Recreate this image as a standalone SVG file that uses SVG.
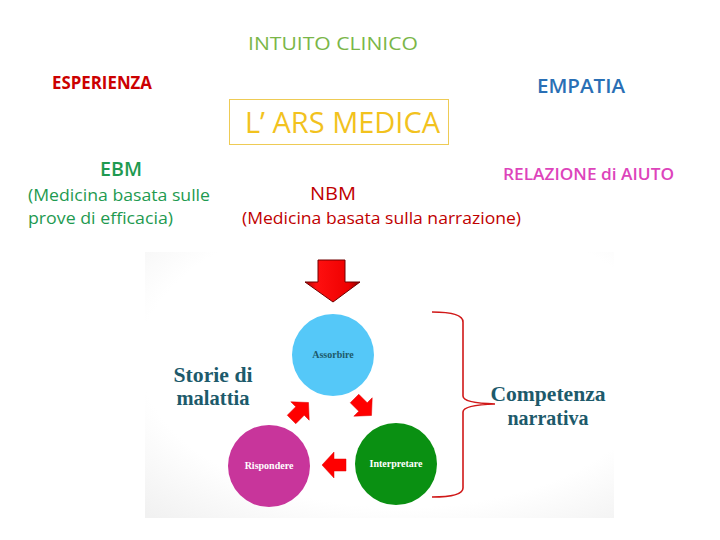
<svg xmlns="http://www.w3.org/2000/svg" width="720" height="540" viewBox="0 0 720 540">
<defs>
<style>
.cal{font-family:"Open Sans","Liberation Sans",sans-serif;}
.b{font-weight:bold;}
.ser{font-family:"Liberation Serif","DejaVu Serif",serif;font-weight:bold;}
.teal{fill:#1d5a6b;}
.sa{fill:#ff0000;stroke:#e00000;stroke-width:0.5;}
</style>
<radialGradient id="bg" cx="0.55" cy="0.4" r="0.8">
<stop offset="0.7" stop-color="#ffffff"/>
<stop offset="1" stop-color="#f1f1f1"/>
</radialGradient>
<linearGradient id="dn" x1="0" y1="0" x2="1" y2="0">
<stop offset="0" stop-color="#a00000"/>
<stop offset="0.2" stop-color="#ff1010"/>
<stop offset="0.8" stop-color="#ee0000"/>
<stop offset="1" stop-color="#800000"/>
</linearGradient>
<path id="blk" d="M-12,-6 L0,-6 L0,-13 L12,0 L0,13 L0,6 L-12,6 Z"/>
</defs>
<rect width="720" height="540" fill="#ffffff"/>

<g id="top-labels">
<text class="cal" x="333" y="50" font-size="19" fill="#7ab648" text-anchor="middle" textLength="170" lengthAdjust="spacingAndGlyphs">INTUITO CLINICO</text>
<text class="cal b" x="52" y="89" font-size="17" fill="#cc0000" textLength="100" lengthAdjust="spacingAndGlyphs">ESPERIENZA</text>
<text class="cal" x="537" y="93" font-size="20" fill="#2a6fb5" font-weight="600" textLength="88" lengthAdjust="spacingAndGlyphs">EMPATIA</text>
</g>

<g id="ars-medica">
<rect x="229.5" y="99.5" width="219" height="45" fill="none" stroke="#eecb55" stroke-width="1"/>
<text class="cal" x="245" y="133" font-size="29" fill="#f2c21e" textLength="195" lengthAdjust="spacingAndGlyphs">L’ ARS MEDICA</text>
</g>

<g id="ebm">
<text class="cal" x="121" y="176" font-size="19" fill="#1e9a50" font-weight="600" text-anchor="middle" textLength="42" lengthAdjust="spacingAndGlyphs">EBM</text>
<text class="cal" x="28" y="201" font-size="17" fill="#1e9a50" textLength="182" lengthAdjust="spacingAndGlyphs">(Medicina basata sulle</text>
<text class="cal" x="28" y="224" font-size="17" fill="#1e9a50" textLength="145" lengthAdjust="spacingAndGlyphs">prove di efficacia)</text>
</g>

<g id="nbm">
<text class="cal" x="333" y="200" font-size="19" fill="#c00000" text-anchor="middle" textLength="46" lengthAdjust="spacingAndGlyphs">NBM</text>
<text class="cal" x="242" y="224" font-size="17" fill="#c00000" textLength="279" lengthAdjust="spacingAndGlyphs">(Medicina basata sulla narrazione)</text>
</g>

<g id="relazione">
<text class="cal" x="503" y="180" font-size="16" fill="#dd44bb" font-weight="600" textLength="171" lengthAdjust="spacingAndGlyphs">RELAZIONE di AIUTO</text>
</g>

<g id="picture">
<rect x="145" y="252" width="469" height="266" fill="url(#bg)"/>

<g id="down-arrow">
<path d="M318,260 L345,260 L345,282 L360,282 L333,302 L305,282 L318,282 Z" fill="url(#dn)" stroke="#700000" stroke-width="1"/>
</g>

<g id="assorbire">
<circle cx="333" cy="355" r="41" fill="#55c8f8"/>
<text class="ser teal" x="333" y="358" font-size="10" text-anchor="middle">Assorbire</text>
</g>
<g id="rispondere">
<circle cx="269" cy="466" r="41" fill="#c8359b"/>
<text class="ser" x="269" y="469" font-size="10" fill="#ffffff" text-anchor="middle">Rispondere</text>
</g>
<g id="interpretare">
<circle cx="396" cy="464" r="41" fill="#0a9012"/>
<text class="ser" x="396" y="467" font-size="10" fill="#ffffff" text-anchor="middle">Interpretare</text>
</g>

<g id="connectors">
<use href="#blk" class="sa" transform="translate(363,407) rotate(45)"/>
<use href="#blk" class="sa" transform="translate(334,465) rotate(180)"/>
<use href="#blk" class="sa" transform="translate(300,411) rotate(-45)"/>
</g>

<g id="storie">
<text class="ser teal" x="213" y="382" font-size="21" text-anchor="middle" textLength="79" lengthAdjust="spacingAndGlyphs">Storie di</text>
<text class="ser teal" x="213" y="405" font-size="21" text-anchor="middle" textLength="73" lengthAdjust="spacingAndGlyphs">malattia</text>
</g>

<g id="brace">
<path d="M432,312 Q463,312 463,322 L463,396 Q463,403 495,404 Q463,405 463,412 L463,488 Q463,497 432,497" fill="none" stroke="#d01818" stroke-width="1.6"/>
</g>

<g id="competenza">
<text class="ser teal" x="548" y="401" font-size="21" text-anchor="middle" textLength="115" lengthAdjust="spacingAndGlyphs">Competenza</text>
<text class="ser teal" x="548" y="425" font-size="21" text-anchor="middle" textLength="81" lengthAdjust="spacingAndGlyphs">narrativa</text>
</g>
</g>
</svg>
